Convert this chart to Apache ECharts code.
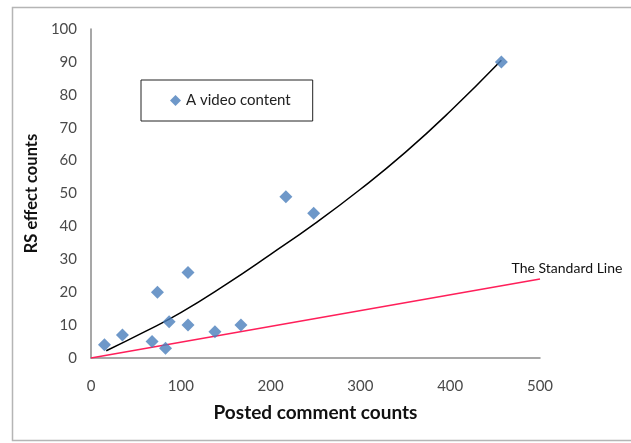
<!DOCTYPE html>
<html>
<head>
<meta charset="utf-8">
<script src="https://cdn.jsdelivr.net/npm/echarts@6/dist/echarts.min.js"></script>
<style>html,body{margin:0;padding:0;background:#fff}#c{width:631px;height:443px}</style>
</head>
<body>
<div id="c"></div>
<script>
// Data
const pointsX = [15, 35, 68, 74, 83, 87, 108, 108, 138, 167, 217, 248, 457];
const pointsY = [4, 7, 5, 20, 3, 11, 26, 10, 8, 10, 49, 44, 90];
const trendX = [17, 60, 100, 150, 200, 250, 300, 350, 400, 457];
const trendY = [2.2, 8, 13.8, 22.3, 31.5, 41, 51.3, 62.5, 75, 90.5];
const standardX = [0, 500];
const standardY = [0, 24];
const xTicks = [0, 100, 200, 300, 400, 500];
const yTicks = [0, 10, 20, 30, 40, 50, 60, 70, 80, 90, 100];
const seriesName = 'A video content';
const standardLabel = 'The Standard Line';

const zip = (a, b) => a.map((v, i) => [v, b[i]]);
const font = 'Lato, "Open Sans", sans-serif';

const chart = echarts.init(document.getElementById('c'), null, {renderer: 'canvas'});
chart.setOption({
  backgroundColor: '#fff',
  animation: false,
  textStyle: {fontFamily: font},
  graphic: [{
    type: 'rect', shape: {x: 12.5, y: 7.5, width: 640, height: 433},
    style: {fill: 'none', stroke: '#b5b5b5', lineWidth: 1.5}, silent: true
  }],
  grid: {left: 91, right: 91, top: 29, bottom: 85},
  legend: {
    data: [seriesName],
    left: 141, top: 80,
    orient: 'horizontal',
    borderColor: '#222', borderWidth: 1, borderRadius: 0,
    padding: [13, 22, 13, 29],
    itemWidth: 11, itemHeight: 11, itemGap: 5,
    icon: 'diamond',
    textStyle: {fontSize: 15, color: '#222', fontFamily: font}
  },
  xAxis: {
    type: 'value', min: xTicks[0], max: xTicks[xTicks.length - 1], interval: 100,
    name: 'Posted comment counts', nameLocation: 'middle', nameGap: 45,
    nameTextStyle: {fontSize: 19, fontWeight: 'bold', color: '#111', fontFamily: font},
    axisLine: {show: true, onZero: false, lineStyle: {color: '#8a8a8a', width: 1.5}},
    axisTick: {show: false},
    splitLine: {show: false},
    axisLabel: {fontSize: 15, color: '#4a4a4a', margin: 21, fontFamily: font}
  },
  yAxis: {
    type: 'value', min: yTicks[0], max: yTicks[yTicks.length - 1], interval: 10,
    name: 'RS effect counts', nameLocation: 'middle', nameGap: 42,
    nameTextStyle: {fontSize: 16.5, fontWeight: 'bold', color: '#111', fontFamily: font},
    axisLine: {show: true, lineStyle: {color: '#8a8a8a', width: 1.5}},
    axisTick: {show: false},
    splitLine: {show: false},
    axisLabel: {fontSize: 15, color: '#4a4a4a', margin: 14, fontFamily: font}
  },
  series: [
    {
      name: standardLabel, type: 'line', data: zip(standardX, standardY),
      symbol: 'none', lineStyle: {color: '#ff1f5a', width: 1.6},
      markPoint: {
        symbol: 'circle', symbolSize: 0,
        data: [{coord: [standardX[1], standardY[1]], value: standardLabel}],
        label: {show: true, position: 'top', distance: 4, offset: [27, 0],
          formatter: standardLabel, fontSize: 14, color: '#111', fontFamily: font}
      },
      z: 2
    },
    {
      name: 'trend', type: 'line', data: zip(trendX, trendY),
      smooth: true,
      symbol: 'none', lineStyle: {color: '#000', width: 1.5}, z: 3
    },
    {
      name: seriesName, type: 'scatter', data: zip(pointsX, pointsY),
      symbol: 'diamond', symbolSize: 13,
      itemStyle: {color: '#4a7ebb'}, z: 4
    }
  ]
});
</script>
</body>
</html>
